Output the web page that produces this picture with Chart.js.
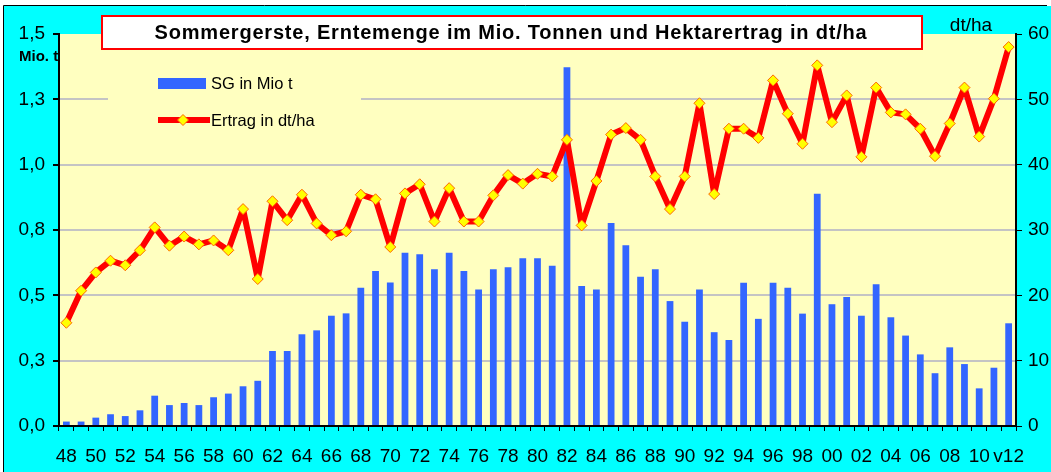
<!DOCTYPE html>
<html lang="de">
<head>
  <meta charset="UTF-8" />
  <title>Sommergerste - Erntemenge und Hektarertrag</title>
  <script src="https://cdn.jsdelivr.net/npm/chart.js"></script>
  <style>
    html, body {
      margin: 0;
      padding: 0;
      background: #ffffff;
    }

    canvas {
      display: block;
    }
  </style>
</head>
<body>
  <canvas id="sgChart" width="1051" height="472"></canvas>

  <script>
    // Jahre 1948 bis 2012 (v12 = vorläufig)
    const years = [
      '48', '49', '50', '51', '52', '53', '54', '55', '56', '57',
      '58', '59', '60', '61', '62', '63', '64', '65', '66', '67',
      '68', '69', '70', '71', '72', '73', '74', '75', '76', '77',
      '78', '79', '80', '81', '82', '83', '84', '85', '86', '87',
      '88', '89', '90', '91', '92', '93', '94', '95', '96', '97',
      '98', '99', '00', '01', '02', '03', '04', '05', '06', '07',
      '08', '09', '10', '11', 'v12'
    ];

    // Erntemenge in Mio. t (linke Achse)
    const harvestMioT = [
      0.017, 0.017, 0.032, 0.045, 0.038, 0.060, 0.116, 0.080, 0.088, 0.080,
      0.110, 0.124, 0.152, 0.173, 0.287, 0.287, 0.351, 0.366, 0.422, 0.431,
      0.529, 0.593, 0.549, 0.663, 0.657, 0.600, 0.663, 0.593, 0.522, 0.600,
      0.607, 0.642, 0.642, 0.613, 1.373, 0.536, 0.522, 0.777, 0.692, 0.571,
      0.600, 0.478, 0.399, 0.522, 0.359, 0.329, 0.548, 0.410, 0.548, 0.529,
      0.430, 0.889, 0.466, 0.494, 0.422, 0.542, 0.416, 0.346, 0.274, 0.202,
      0.301, 0.237, 0.144, 0.223, 0.393
    ];

    // Hektarertrag in dt/ha (rechte Achse)
    const yieldDtHa = [
      15.8, 20.7, 23.5, 25.3, 24.6, 26.9, 30.4, 27.6, 29.0, 27.8,
      28.4, 26.9, 33.2, 22.5, 34.4, 31.5, 35.4, 31.0, 29.2, 29.8,
      35.4, 34.7, 27.4, 35.6, 37.0, 31.3, 36.4, 31.3, 31.3, 35.3,
      38.4, 37.1, 38.6, 38.2, 43.8, 30.7, 37.5, 44.6, 45.6, 43.8,
      38.2, 33.2, 38.2, 49.4, 35.5, 45.5, 45.5, 44.1, 52.9, 47.8,
      43.2, 55.2, 46.5, 50.6, 41.2, 51.8, 48.0, 47.7, 45.5, 41.3,
      46.3, 51.8, 44.3, 50.1, 58.0
    ];

    const leftTickLabels = ['0,0', '0,3', '0,5', '0,8', '1,0', '1,3', '1,5'];
    const rightTickLabels = ['0', '10', '20', '30', '40', '50', '60'];

    const fontFamily = "'Liberation Sans', Arial, sans-serif";
    const plotBg = '#FFFFC0';
    const frameBg = '#00FFFF';
    const barColor = '#3366FF';
    const lineColor = '#FF0000';
    const markerColor = '#FFFF00';
    const markerEdge = '#FF6600';

    const drawDiamond = (ctx, x, y, r) => {
      ctx.beginPath();
      ctx.moveTo(x, y - r);
      ctx.lineTo(x + r, y);
      ctx.lineTo(x, y + r);
      ctx.lineTo(x - r, y);
      ctx.closePath();
      ctx.fillStyle = markerColor;
      ctx.fill();
      ctx.lineWidth = 1;
      ctx.strokeStyle = markerEdge;
      ctx.stroke();
    };

    const frame = {
      id: 'frame',
      beforeDraw(chart) {
        const { ctx, chartArea: a, width, height } = chart;
        ctx.save();
        ctx.fillStyle = '#ffffff';
        ctx.fillRect(0, 0, width, height);
        ctx.fillStyle = frameBg;
        ctx.fillRect(4, 6, width - 4, height - 6);
        ctx.strokeStyle = '#000000';
        ctx.lineWidth = 1;
        ctx.beginPath();
        ctx.moveTo(3.5, height);
        ctx.lineTo(3.5, 5.5);
        ctx.lineTo(1047, 5.5);
        ctx.stroke();

        // Einheiten
        ctx.fillStyle = '#000000';
        ctx.textBaseline = 'middle';
        ctx.textAlign = 'left';
        ctx.font = `bold 15px ${fontFamily}`;
        ctx.fillText('Mio. t', 19, 57);
        ctx.textAlign = 'center';
        ctx.font = `19px ${fontFamily}`;
        ctx.fillText('dt/ha', 971, 26);

        ctx.fillStyle = plotBg;
        ctx.fillRect(a.left, a.top, a.right - a.left, a.bottom - a.top);
        ctx.restore();
      },
      afterDraw(chart) {
        const { ctx } = chart;
        ctx.save();

        // Legende
        ctx.fillStyle = plotBg;
        ctx.fillRect(108, 52, 253, 90);
        ctx.fillStyle = barColor;
        ctx.fillRect(158, 78, 48, 11);
        ctx.strokeStyle = lineColor;
        ctx.lineWidth = 6;
        ctx.beginPath();
        ctx.moveTo(158, 120);
        ctx.lineTo(210, 120);
        ctx.stroke();
        drawDiamond(ctx, 183, 120, 5.5);
        ctx.fillStyle = '#000000';
        ctx.font = `16.5px ${fontFamily}`;
        ctx.textAlign = 'left';
        ctx.textBaseline = 'middle';
        ctx.fillText('SG in Mio t', 211, 84);
        ctx.fillText('Ertrag in dt/ha', 211, 121);

        // Titelkasten
        ctx.fillStyle = '#ffffff';
        ctx.fillRect(101, 16, 821, 33);
        ctx.strokeStyle = '#FF0000';
        ctx.lineWidth = 2;
        ctx.strokeRect(102, 16, 820, 33);
        ctx.fillStyle = '#000000';
        ctx.font = `bold 20px ${fontFamily}`;
        ctx.letterSpacing = '0.8px';
        ctx.textAlign = 'center';
        ctx.fillText('Sommergerste, Erntemenge im Mio. Tonnen und Hektarertrag in dt/ha', 511, 33);
        ctx.restore();
      }
    };

    new Chart(document.getElementById('sgChart'), {
      data: {
        labels: years,
        datasets: [
          {
            type: 'line',
            label: 'Ertrag in dt/ha',
            data: yieldDtHa,
            yAxisID: 'y1',
            order: 0,
            borderColor: lineColor,
            borderWidth: 6,
            borderJoinStyle: 'round',
            tension: 0,
            pointStyle: 'rectRot',
            pointRadius: 5.5,
            pointBackgroundColor: markerColor,
            pointBorderColor: markerEdge,
            pointBorderWidth: 1
          },
          {
            type: 'bar',
            label: 'SG in Mio t',
            data: harvestMioT,
            yAxisID: 'y',
            order: 1,
            backgroundColor: barColor,
            categoryPercentage: 1,
            barPercentage: 0.46
          }
        ]
      },
      options: {
        responsive: false,
        animation: false,
        layout: { padding: { top: 34, left: 0, right: 0, bottom: 0 } },
        plugins: {
          legend: { display: false },
          tooltip: { enabled: false },
          title: { display: false }
        },
        scales: {
          x: {
            offset: true,
            afterFit: (scale) => { scale.height = 46; },
            border: { color: '#000000', width: 2 },
            grid: {
              offset: true,
              drawOnChartArea: false,
              tickLength: 5,
              color: '#000000'
            },
            ticks: {
              autoSkip: false,
              maxRotation: 0,
              padding: 14,
              color: '#000000',
              font: { family: fontFamily, size: 19 },
              callback: (value, index) => (index % 2 === 0 ? years[index] : '')
            }
          },
          y: {
            position: 'left',
            min: 0,
            max: 1.5,
            afterFit: (scale) => { scale.width = 59; },
            border: { color: '#000000', width: 2 },
            grid: {
              color: (ctx) => (ctx.index === 0 || ctx.index === 6 ? 'rgba(0,0,0,0)' : '#C4C4C4'),
              lineWidth: 2,
              tickColor: '#000000',
              tickLength: 6
            },
            ticks: {
              stepSize: 0.25,
              padding: 8,
              color: '#000000',
              font: { family: fontFamily, size: 19 },
              callback: (value, index) => leftTickLabels[index]
            }
          },
          y1: {
            position: 'right',
            min: 0,
            max: 60,
            afterFit: (scale) => { scale.width = 35; },
            border: { color: '#000000', width: 2 },
            grid: {
              drawOnChartArea: false,
              color: '#000000',
              tickLength: 6
            },
            ticks: {
              stepSize: 10,
              padding: 6,
              color: '#000000',
              font: { family: fontFamily, size: 19 },
              callback: (value, index) => rightTickLabels[index]
            }
          }
        }
      },
      plugins: [frame]
    });
  </script>
</body>
</html>
